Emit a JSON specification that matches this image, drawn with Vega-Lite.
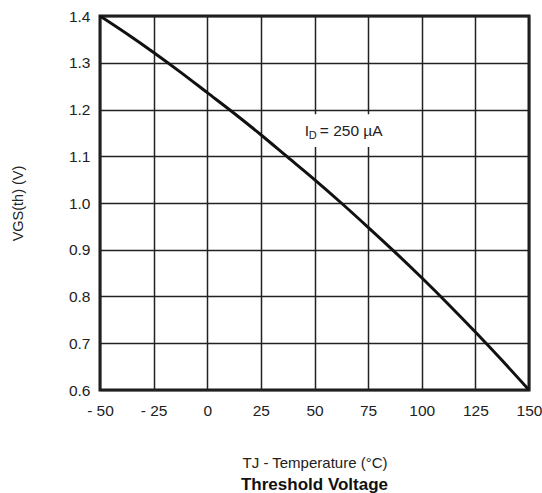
{
  "$schema": "https://vega.github.io/schema/vega-lite/v6.json",
  "width": 429,
  "height": 374,
  "autosize": {"type": "none"},
  "padding": {"left": 100, "top": 16, "right": 13, "bottom": 103},
  "background": "white",
  "config": {
    "font": "Liberation Sans",
    "view": {"stroke": "#1a1a1a", "strokeWidth": 3},
    "axis": {"labelFont": "Liberation Sans", "titleFont": "Liberation Sans", "labelColor": "#222", "titleColor": "#222"}
  },
  "title": {"text": "Threshold Voltage", "orient": "bottom", "fontSize": 17, "fontWeight": "bold", "font": "Liberation Sans", "color": "#111", "offset": 6},
  "data": {"values": [
    {"t": -50, "v": 1.40},
    {"t": -37.5, "v": 1.362},
    {"t": -25, "v": 1.322},
    {"t": -12.5, "v": 1.28},
    {"t": 0, "v": 1.236},
    {"t": 12.5, "v": 1.192},
    {"t": 25, "v": 1.146},
    {"t": 37.5, "v": 1.098},
    {"t": 50, "v": 1.05},
    {"t": 62.5, "v": 1.0},
    {"t": 75, "v": 0.948},
    {"t": 87.5, "v": 0.895},
    {"t": 100, "v": 0.84},
    {"t": 112.5, "v": 0.783},
    {"t": 125, "v": 0.724},
    {"t": 137.5, "v": 0.663},
    {"t": 150, "v": 0.60}
  ]},
  "layer": [
    {
      "mark": {"type": "line", "color": "#111", "strokeWidth": 3, "interpolate": "monotone", "clip": true},
      "encoding": {
        "x": {"field": "t", "type": "quantitative", "scale": {"domain": [-50, 150], "nice": false},
          "axis": {"values": [-50, -25, 0, 25, 50, 75, 100, 125, 150], "ticks": false, "domain": false,
            "grid": true, "gridColor": "#222", "gridWidth": 1.5, "gridOpacity": 1,
            "labelExpr": "datum.value < 0 ? '- ' + abs(datum.value) : datum.label",
            "labelFontSize": 15.5, "labelPadding": 13, "labelFlush": false,
            "title": "TJ - Temperature (°C)", "titleFontSize": 15, "titleFontWeight": "normal", "titlePadding": 37}},
        "y": {"field": "v", "type": "quantitative", "scale": {"domain": [0.6, 1.4], "nice": false, "zero": false},
          "axis": {"values": [0.6, 0.7, 0.8, 0.9, 1.0, 1.1, 1.2, 1.3, 1.4], "format": ".1f", "ticks": false, "domain": false,
            "grid": true, "gridColor": "#222", "gridWidth": 1.5, "gridOpacity": 1,
            "labelFontSize": 15.5, "labelPadding": 10,
            "title": "VGS(th) (V)", "titleFontSize": 14.5, "titleFontWeight": "normal", "titleX": -82, "titleY": 187, "titleAngle": -90, "titleBaseline": "middle", "titleAlign": "center"}}
      }
    },
    {
      "data": {"values": [{"t1": 43, "t2": 92, "v1": 1.12, "v2": 1.19}]},
      "mark": {"type": "rect", "color": "white", "opacity": 1},
      "encoding": {"x": {"field": "t1", "type": "quantitative"}, "x2": {"field": "t2"}, "y": {"field": "v1", "type": "quantitative"}, "y2": {"field": "v2"}}
    },
    {
      "data": {"values": [{"t": 45.5, "v": 1.154, "label": "I"}]},
      "mark": {"type": "text", "fontSize": 15.5, "align": "left", "baseline": "middle", "color": "#222"},
      "encoding": {"x": {"field": "t", "type": "quantitative"}, "y": {"field": "v", "type": "quantitative"}, "text": {"field": "label"}}
    },
    {
      "data": {"values": [{"t": 45.5, "v": 1.154, "label": "D"}]},
      "mark": {"type": "text", "fontSize": 11, "align": "left", "baseline": "middle", "color": "#222", "dx": 4, "dy": 5},
      "encoding": {"x": {"field": "t", "type": "quantitative"}, "y": {"field": "v", "type": "quantitative"}, "text": {"field": "label"}}
    },
    {
      "data": {"values": [{"t": 45.5, "v": 1.154, "label": "= 250 µA"}]},
      "mark": {"type": "text", "fontSize": 15.5, "align": "left", "baseline": "middle", "color": "#222", "dx": 15},
      "encoding": {"x": {"field": "t", "type": "quantitative"}, "y": {"field": "v", "type": "quantitative"}, "text": {"field": "label"}}
    }
  ]
}
